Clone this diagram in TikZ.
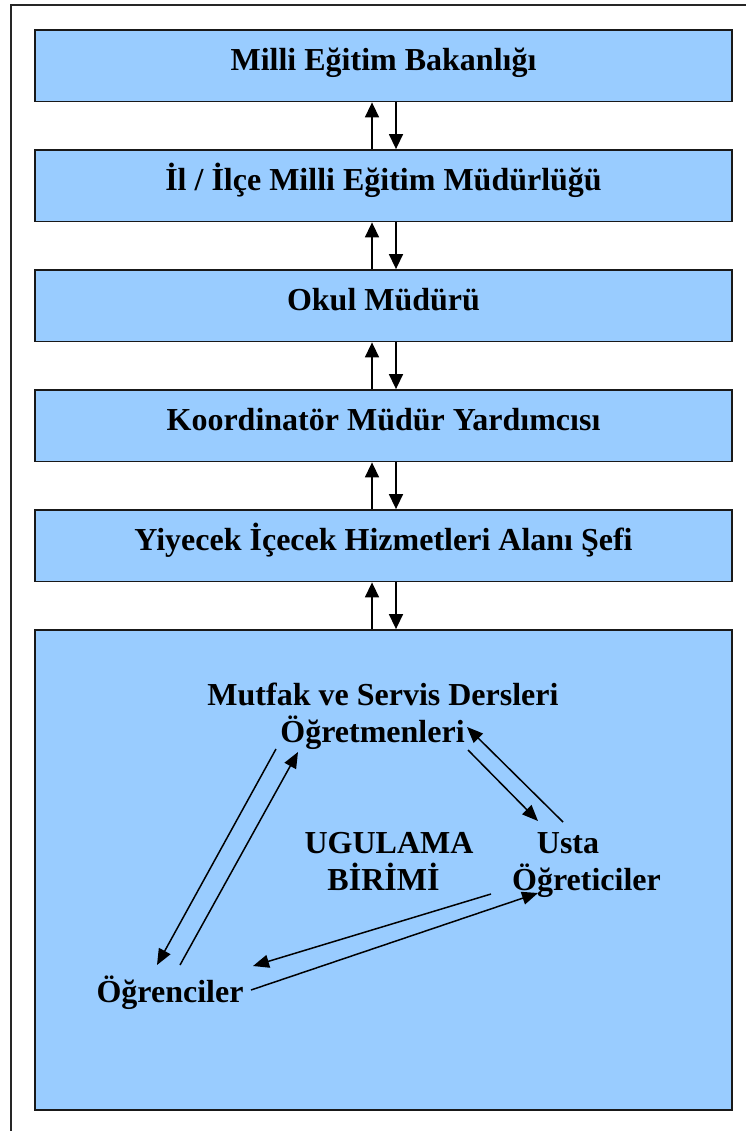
\documentclass[tikz,border=0pt]{standalone}
\usepackage{fontspec}
\setmainfont{Liberation Serif}
\usetikzlibrary{arrows.meta}
\definecolor{boxblue}{HTML}{99CCFF}
\begin{document}
\begin{tikzpicture}[x=1pt,y=-1pt,
  txt/.style={font=\fontsize{32}{37}\selectfont\bfseries, inner sep=0pt},
  level/.style={draw=black!90, line width=1.8pt, fill=boxblue, minimum width=697pt,
    minimum height=71.5pt, inner sep=0pt, text height=22pt, text depth=13pt,
    font=\fontsize{32}{37}\selectfont\bfseries},
  conn/.style={line width=1.5pt, -{Triangle[length=15pt,width=14pt]}},
  tri/.style={line width=1.5pt, -{Triangle[length=16pt,width=13pt]}}]
\useasboundingbox (0,0) rectangle (746,1131);
\fill[white] (0,0) rectangle (746,1131);
% outer frame (cut off at right and bottom)
\draw[line width=1.6pt, black!85] (11,1131) -- (11,5) -- (746,5);
% level boxes
\node[level] (b1) at (383.5,65.75) {Milli Eğitim Bakanlığı};
\node[level] (b2) at (383.5,185.75) {İl / İlçe Milli Eğitim Müdürlüğü};
\node[level] (b3) at (383.5,305.75) {Okul Müdürü};
\node[level] (b4) at (383.5,425.75) {Koordinatör Müdür Yardımcısı};
\node[level] (b5) at (383.5,545.75) {Yiyecek İçecek Hizmetleri Alanı Şefi};
\node[level, minimum height=480pt] (b6) at (383.5,870) {};
% arrows between levels
\foreach \lo/\hi in {b2/b1,b3/b2,b4/b3,b5/b4,b6/b5}{
  \draw[conn] ([xshift=-11.5pt]\lo.north) -- ([xshift=-11.5pt]\hi.south);
  \draw[conn] ([xshift=12.5pt]\hi.south) -- ([xshift=12.5pt]\lo.north);
}
% application unit
\node[txt, anchor=base] (mutfak) at (383,705) {Mutfak ve Servis Dersleri};
\node[txt, anchor=base] (ogretmen) at (372.5,742) {Öğretmenleri};
\node[txt, anchor=base] (ugulama) at (389,853) {UGULAMA};
\node[txt, anchor=base] (birimi) at (383.5,890) {BİRİMİ};
\node[txt, anchor=base] (usta) at (568,853) {Usta};
\node[txt, anchor=base] (ogretici) at (586.5,890) {Öğreticiler};
\node[txt, anchor=base] (ogrenci) at (170,1002) {Öğrenciler};
% triangle of relations
\draw[tri] ([shift={(-96.5,7)}]ogretmen.base) -- ([shift={(-13,-37)}]ogrenci.base);
\draw[tri] ([shift={(10,-37)}]ogrenci.base) -- ([shift={(-74.5,10)}]ogretmen.base);
\draw[tri] ([shift={(95.5,8)}]ogretmen.base) -- ([shift={(-48.5,-69)}]ogretici.base);
\draw[tri] ([shift={(-23.5,-68)}]ogretici.base) -- ([shift={(94.5,-15)}]ogretmen.base);
\draw[tri] ([shift={(-95.5,4)}]ogretici.base) -- ([shift={(83,-36)}]ogrenci.base);
\draw[tri] ([shift={(81,-12)}]ogrenci.base) -- ([shift={(-48.5,3)}]ogretici.base);
\end{tikzpicture}
\end{document}
